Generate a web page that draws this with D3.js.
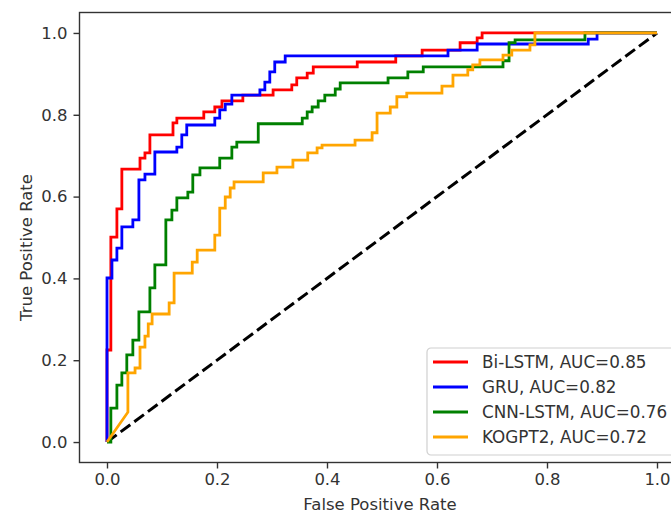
<!DOCTYPE html>
<html>
<head>
<meta charset="utf-8">
<script src="https://cdn.jsdelivr.net/npm/d3@7"></script>
<style>
  body { margin: 0; background: #fff; }
  svg { display: block; font-family: "DejaVu Sans", sans-serif; }
</style>
</head>
<body>
<div id="chart"></div>
<script>
const W = 671, H = 515;

// ROC curves (fpr / tpr pairs)
const biLstmFpr = [0, 0, 0.007, 0.007, 0.018, 0.018, 0.027, 0.027, 0.06, 0.06, 0.069, 0.069, 0.078, 0.078, 0.12, 0.12, 0.127, 0.127, 0.176, 0.176, 0.196, 0.196, 0.209, 0.209, 0.247, 0.247, 0.302, 0.302, 0.336, 0.336, 0.345, 0.345, 0.364, 0.364, 0.375, 0.375, 0.455, 0.455, 0.525, 0.525, 0.573, 0.573, 0.642, 0.642, 0.673, 0.673, 0.682, 0.682, 1];
const biLstmTpr = [0, 0.225, 0.225, 0.501, 0.501, 0.57, 0.57, 0.667, 0.667, 0.694, 0.694, 0.707, 0.707, 0.751, 0.751, 0.78, 0.78, 0.792, 0.792, 0.807, 0.807, 0.819, 0.819, 0.834, 0.834, 0.848, 0.848, 0.861, 0.861, 0.873, 0.873, 0.89, 0.89, 0.902, 0.902, 0.917, 0.917, 0.929, 0.929, 0.944, 0.944, 0.958, 0.958, 0.976, 0.976, 0.988, 0.988, 1, 1];

const gruFpr = [0, 0, 0.009, 0.009, 0.018, 0.018, 0.027, 0.027, 0.047, 0.047, 0.058, 0.058, 0.069, 0.069, 0.087, 0.087, 0.127, 0.127, 0.136, 0.136, 0.145, 0.145, 0.196, 0.196, 0.205, 0.205, 0.215, 0.215, 0.227, 0.227, 0.278, 0.278, 0.287, 0.287, 0.296, 0.296, 0.305, 0.305, 0.324, 0.324, 0.62, 0.62, 0.673, 0.673, 0.875, 0.875, 0.891, 0.891, 1];
const gruTpr = [0, 0.401, 0.401, 0.445, 0.445, 0.474, 0.474, 0.526, 0.526, 0.543, 0.543, 0.641, 0.641, 0.655, 0.655, 0.709, 0.709, 0.721, 0.721, 0.751, 0.751, 0.775, 0.775, 0.792, 0.792, 0.812, 0.812, 0.826, 0.826, 0.848, 0.848, 0.861, 0.861, 0.88, 0.88, 0.905, 0.905, 0.929, 0.929, 0.944, 0.944, 0.958, 0.958, 0.973, 0.973, 0.985, 0.985, 1, 1];

const cnnLstmFpr = [0, 0.007, 0.007, 0.018, 0.018, 0.027, 0.027, 0.036, 0.036, 0.047, 0.047, 0.058, 0.058, 0.078, 0.078, 0.087, 0.087, 0.107, 0.107, 0.118, 0.118, 0.127, 0.127, 0.147, 0.147, 0.156, 0.156, 0.169, 0.169, 0.205, 0.205, 0.227, 0.227, 0.236, 0.236, 0.275, 0.275, 0.355, 0.355, 0.364, 0.364, 0.373, 0.373, 0.384, 0.384, 0.396, 0.396, 0.415, 0.415, 0.424, 0.424, 0.511, 0.511, 0.547, 0.547, 0.575, 0.575, 0.72, 0.72, 0.731, 0.731, 0.742, 0.742, 0.869, 0.869, 1];
const cnnLstmTpr = [0, 0, 0.083, 0.083, 0.139, 0.139, 0.169, 0.169, 0.213, 0.213, 0.249, 0.249, 0.318, 0.318, 0.377, 0.377, 0.433, 0.433, 0.543, 0.543, 0.567, 0.567, 0.597, 0.597, 0.611, 0.611, 0.653, 0.653, 0.67, 0.67, 0.694, 0.694, 0.721, 0.721, 0.733, 0.733, 0.778, 0.778, 0.792, 0.792, 0.807, 0.807, 0.819, 0.819, 0.834, 0.834, 0.848, 0.848, 0.863, 0.863, 0.878, 0.878, 0.89, 0.89, 0.905, 0.905, 0.917, 0.917, 0.932, 0.932, 0.976, 0.976, 0.983, 0.983, 1, 1];

const kogpt2Fpr = [0, 0.038, 0.038, 0.051, 0.051, 0.06, 0.06, 0.069, 0.069, 0.075, 0.075, 0.082, 0.082, 0.113, 0.113, 0.122, 0.122, 0.155, 0.155, 0.164, 0.164, 0.196, 0.196, 0.205, 0.205, 0.215, 0.215, 0.224, 0.224, 0.231, 0.231, 0.284, 0.284, 0.309, 0.309, 0.338, 0.338, 0.365, 0.365, 0.382, 0.382, 0.391, 0.391, 0.451, 0.451, 0.482, 0.482, 0.491, 0.491, 0.515, 0.515, 0.527, 0.527, 0.545, 0.545, 0.609, 0.609, 0.629, 0.629, 0.656, 0.656, 0.665, 0.665, 0.678, 0.678, 0.72, 0.72, 0.736, 0.736, 0.769, 0.769, 0.778, 0.778, 1];
const kogpt2Tpr = [0, 0.073, 0.169, 0.169, 0.181, 0.181, 0.232, 0.232, 0.259, 0.259, 0.289, 0.289, 0.313, 0.313, 0.34, 0.34, 0.413, 0.413, 0.44, 0.44, 0.469, 0.469, 0.506, 0.506, 0.572, 0.572, 0.599, 0.599, 0.621, 0.621, 0.636, 0.636, 0.658, 0.658, 0.672, 0.672, 0.689, 0.689, 0.707, 0.707, 0.719, 0.719, 0.726, 0.726, 0.738, 0.738, 0.756, 0.756, 0.804, 0.804, 0.819, 0.819, 0.844, 0.844, 0.853, 0.853, 0.87, 0.87, 0.897, 0.897, 0.91, 0.91, 0.922, 0.922, 0.934, 0.934, 0.946, 0.946, 0.958, 0.958, 0.971, 0.971, 1, 1];

const seriesNames = ["Bi-LSTM, AUC=0.85", "GRU, AUC=0.82", "CNN-LSTM, AUC=0.76", "KOGPT2, AUC=0.72"];
const seriesColors = ["red", "blue", "green", "orange"];
const tickValues = [0, 0.2, 0.4, 0.6, 0.8, 1.0];

const series = [
  { fpr: biLstmFpr, tpr: biLstmTpr },
  { fpr: gruFpr, tpr: gruTpr },
  { fpr: cnnLstmFpr, tpr: cnnLstmTpr },
  { fpr: kogpt2Fpr, tpr: kogpt2Tpr },
];

// axes box (right side runs off the picture, like the reference)
const x = d3.scaleLinear().domain([-0.05, 1.05]).range([79.5, 684.5]);
const y = d3.scaleLinear().domain([-0.05, 1.05]).range([462.5, 12.5]);

const svg = d3.select("#chart").append("svg")
  .attr("width", W)
  .attr("height", H);

const fontSize = 16.5;

// x axis
const xAxis = svg.append("g")
  .attr("transform", `translate(0,${y(-0.05)})`)
  .call(d3.axisBottom(x).tickValues(tickValues).tickFormat(d3.format(".1f"))
    .tickSize(6).tickPadding(5));
xAxis.select(".domain").remove();

// y axis
const yAxis = svg.append("g")
  .attr("transform", `translate(${x(-0.05)},0)`)
  .call(d3.axisLeft(y).tickValues(tickValues).tickFormat(d3.format(".1f"))
    .tickSize(6).tickPadding(6));
yAxis.select(".domain").remove();

svg.selectAll(".tick line").attr("stroke", "#333").attr("stroke-width", 1.4);
svg.selectAll(".tick text")
  .attr("fill", "#333")
  .style("font-size", fontSize + "px")
  .style("font-family", "DejaVu Sans, sans-serif");

// diagonal reference line
svg.append("line")
  .attr("x1", x(0)).attr("y1", y(0))
  .attr("x2", x(1)).attr("y2", y(1))
  .attr("stroke", "black")
  .attr("stroke-width", 3)
  .attr("stroke-dasharray", "12,5");

const line = d3.line()
  .x((d) => x(d[0]))
  .y((d) => y(d[1]));

series.forEach(function (s, i) {
  const pts = s.fpr.map((f, j) => [f, s.tpr[j]]);
  svg.append("path")
    .datum(pts)
    .attr("fill", "none")
    .attr("stroke", seriesColors[i])
    .attr("stroke-width", 2.8)
    .attr("stroke-linejoin", "miter")
    .attr("d", line);
});

// spines
svg.append("rect")
  .attr("x", x(-0.05))
  .attr("y", y(1.05))
  .attr("width", x(1.05) - x(-0.05))
  .attr("height", y(-0.05) - y(1.05))
  .attr("fill", "none")
  .attr("stroke", "#333")
  .attr("stroke-width", 1.4);

// axis labels
svg.append("text")
  .attr("x", (x(-0.05) + x(1.05)) / 2 - 2)
  .attr("y", 510)
  .attr("text-anchor", "middle")
  .attr("fill", "#333")
  .style("font-size", fontSize + "px")
  .text("False Positive Rate");

svg.append("text")
  .attr("transform", `translate(32,${(y(-0.05) + y(1.05)) / 2 + 10}) rotate(-90)`)
  .attr("text-anchor", "middle")
  .attr("fill", "#333")
  .style("font-size", fontSize + "px")
  .text("True Positive Rate");

// legend
const legend = svg.append("g").attr("transform", "translate(427,348)");
legend.append("rect")
  .attr("width", 260)
  .attr("height", 107)
  .attr("rx", 4)
  .attr("fill", "white")
  .attr("fill-opacity", 0.8)
  .attr("stroke", "#d0d0d0")
  .attr("stroke-width", 1.2);

seriesNames.forEach(function (name, i) {
  const ly = 14 + i * 25;
  legend.append("line")
    .attr("x1", 6).attr("x2", 41)
    .attr("y1", ly).attr("y2", ly)
    .attr("stroke", seriesColors[i])
    .attr("stroke-width", 2.8);
  legend.append("text")
    .attr("x", 55)
    .attr("y", ly)
    .attr("dy", "0.35em")
    .attr("fill", "#333")
    .style("font-size", "16.8px")
    .text(name);
});
</script>
</body>
</html>
